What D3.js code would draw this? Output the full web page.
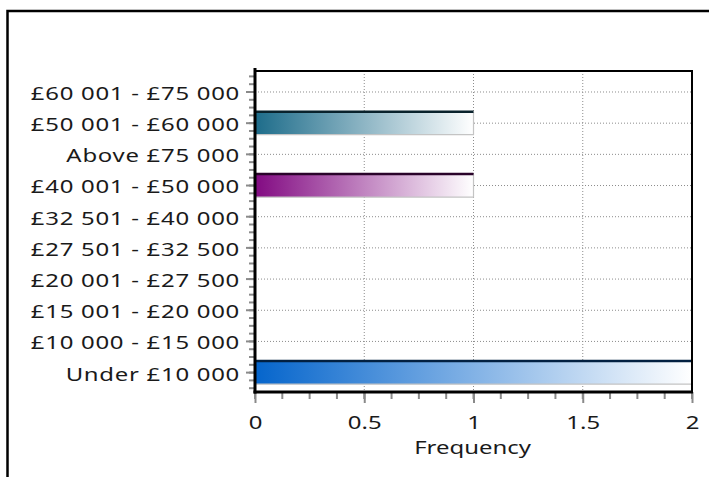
<!DOCTYPE html>
<html>
<head>
<meta charset="utf-8">
<script src="https://cdn.jsdelivr.net/npm/d3@7"></script>
<style>
  html, body { margin: 0; padding: 0; background: #fff; }
  svg { display: block; }
</style>
</head>
<body>
<script>
// Income bands, listed top to bottom as they appear on the axis
const categories = [
  "£60 001 - £75 000",
  "£50 001 - £60 000",
  "Above £75 000",
  "£40 001 - £50 000",
  "£32 501 - £40 000",
  "£27 501 - £32 500",
  "£20 001 - £27 500",
  "£15 001 - £20 000",
  "£10 000 - £15 000",
  "Under £10 000"
];
const frequencies = [0, 1, 0, 1, 0, 0, 0, 0, 0, 2];
const barColors = [
  "#3b6e9a", "#1d6c8a", "#5b7fa6", "#820a82", "#4f7f4f",
  "#9a6b2f", "#7a3b3b", "#3b3b7a", "#2f7a6b", "#0565cc"
];
const xTicks = [0, 0.5, 1, 1.5, 2];
const xTickLabels = ["0", "0.5", "1", "1.5", "2"];
const xTitle = "Frequency";

const W = 709, H = 477;
const plot = { left: 255, right: 692, top: 71, bottom: 392 };
const FONT = "'Noto Sans', 'Open Sans', sans-serif";
const FS = 18, SX = 1.33; // wide lettering

const svg = d3.select("body").append("svg")
  .attr("width", W).attr("height", H);

// outer frame
svg.append("rect")
  .attr("x", 7.5).attr("y", 11)
  .attr("width", W + 10).attr("height", H + 10)
  .attr("fill", "none").attr("stroke", "#000").attr("stroke-width", 2.5);

const x = d3.scaleLinear().domain([0, 2]).range([plot.left, plot.right]);
const y = d3.scaleBand().domain(categories)
  .range([76.4, 388.2]).paddingInner(0.26).paddingOuter(0.13);
const yc = d => y(d) + y.bandwidth() / 2;

// gradients for the bars
const defs = svg.append("defs");
categories.forEach((c, i) => {
  const g = defs.append("linearGradient").attr("id", "grad" + i)
    .attr("x1", "0%").attr("x2", "100%").attr("y1", "0%").attr("y2", "0%");
  g.append("stop").attr("offset", "0%").attr("stop-color", barColors[i]);
  g.append("stop").attr("offset", "100%").attr("stop-color", "#ffffff");
});

// dotted grid
const grid = svg.append("g").attr("stroke", "#8c8c8c").attr("stroke-width", 1)
  .attr("stroke-dasharray", "1,2");
grid.selectAll("line.v").data(xTicks.slice(1, -1)).join("line")
  .attr("x1", d => x(d)).attr("x2", d => x(d))
  .attr("y1", plot.top).attr("y2", plot.bottom);
grid.selectAll("line.h").data(categories).join("line")
  .attr("x1", plot.left).attr("x2", plot.right)
  .attr("y1", d => yc(d)).attr("y2", d => yc(d));

// bars
const rows = categories.map((c, i) => ({ c, v: frequencies[i], i }))
  .filter(d => d.v > 0);
const bars = svg.append("g").selectAll("g").data(rows).join("g");
bars.append("rect")
  .attr("x", x(0)).attr("y", d => y(d.c))
  .attr("width", d => x(d.v) - x(0)).attr("height", y.bandwidth())
  .attr("fill", d => `url(#grad${d.i})`);
bars.append("path")
  .attr("d", d => `M${x(d.v)},${y(d.c)}V${y(d.c) + y.bandwidth()}H${x(0)}`)
  .attr("fill", "none").attr("stroke", "#c4c4c4").attr("stroke-width", 1.2);
bars.append("line")
  .attr("x1", x(0)).attr("x2", d => x(d.v))
  .attr("y1", d => y(d.c)).attr("y2", d => y(d.c))
  .attr("stroke", d => d3.color(barColors[d.i]).darker(3.2))
  .attr("stroke-width", 2.5);

// minor ticks
const tickColor = "#8a8a8a";
const minorX = d3.range(0, 2.0001, 0.125);
svg.append("g").selectAll("line").data(minorX).join("line")
  .attr("x1", d => x(d)).attr("x2", d => x(d))
  .attr("y1", plot.bottom).attr("y2", plot.bottom + 7)
  .attr("stroke", tickColor).attr("stroke-width", 2);
const q = y.step() / 4;
const y0 = yc(categories[0]);
const minorY = d3.range(-2, 4 * categories.length + 2).map(k => y0 + k * q)
  .filter(v => v >= plot.top - 2 && v <= plot.bottom + 1);
svg.append("g").selectAll("line").data(minorY).join("line")
  .attr("x1", plot.left - 6).attr("x2", plot.left)
  .attr("y1", d => d).attr("y2", d => d)
  .attr("stroke", tickColor).attr("stroke-width", 2);

// major axes
const yAxis = svg.append("g").attr("transform", `translate(${plot.left},0)`)
  .call(d3.axisLeft(y).tickSize(9).tickPadding(6));
yAxis.select(".domain").remove();
yAxis.selectAll(".tick line").attr("stroke", tickColor).attr("stroke-width", 2);
yAxis.selectAll(".tick text")
  .attr("font-family", FONT).attr("font-size", FS).attr("fill", "#1a1a1a")
  .attr("letter-spacing", 0.55)
  .attr("x", -15 / SX).attr("dy", "0.44em")
  .attr("transform", `scale(${SX},1)`);

const xAxis = svg.append("g").attr("transform", `translate(0,${plot.bottom})`)
  .call(d3.axisBottom(x).tickValues(xTicks)
    .tickFormat((d, i) => xTickLabels[i]).tickSize(11).tickPadding(6));
xAxis.select(".domain").remove();
xAxis.selectAll(".tick line").attr("stroke", tickColor).attr("stroke-width", 2);
xAxis.selectAll(".tick text")
  .attr("font-family", FONT).attr("font-size", FS).attr("fill", "#1a1a1a")
  .attr("y", 37).attr("dy", 0)
  .attr("transform", `scale(${SX},1)`);

// plot frame
const frame = svg.append("g").attr("stroke", "#000").attr("fill", "none");
frame.append("line").attr("x1", plot.left).attr("x2", plot.right + 1)
  .attr("y1", plot.top).attr("y2", plot.top).attr("stroke-width", 2);
frame.append("line").attr("x1", plot.right).attr("x2", plot.right)
  .attr("y1", plot.top).attr("y2", plot.bottom).attr("stroke-width", 2);
frame.append("line").attr("x1", plot.left).attr("x2", plot.left)
  .attr("y1", plot.top - 3).attr("y2", plot.bottom + 1.5).attr("stroke-width", 3);
frame.append("line").attr("x1", plot.left - 1.5).attr("x2", plot.right + 1)
  .attr("y1", plot.bottom).attr("y2", plot.bottom).attr("stroke-width", 3);

// axis title
svg.append("text")
  .attr("transform", `translate(${(plot.left + plot.right) / 2 - 1},454) scale(${SX},1)`)
  .attr("text-anchor", "middle")
  .attr("font-family", FONT).attr("font-size", FS).attr("fill", "#1a1a1a")
  .text(xTitle);
</script>
</body>
</html>
